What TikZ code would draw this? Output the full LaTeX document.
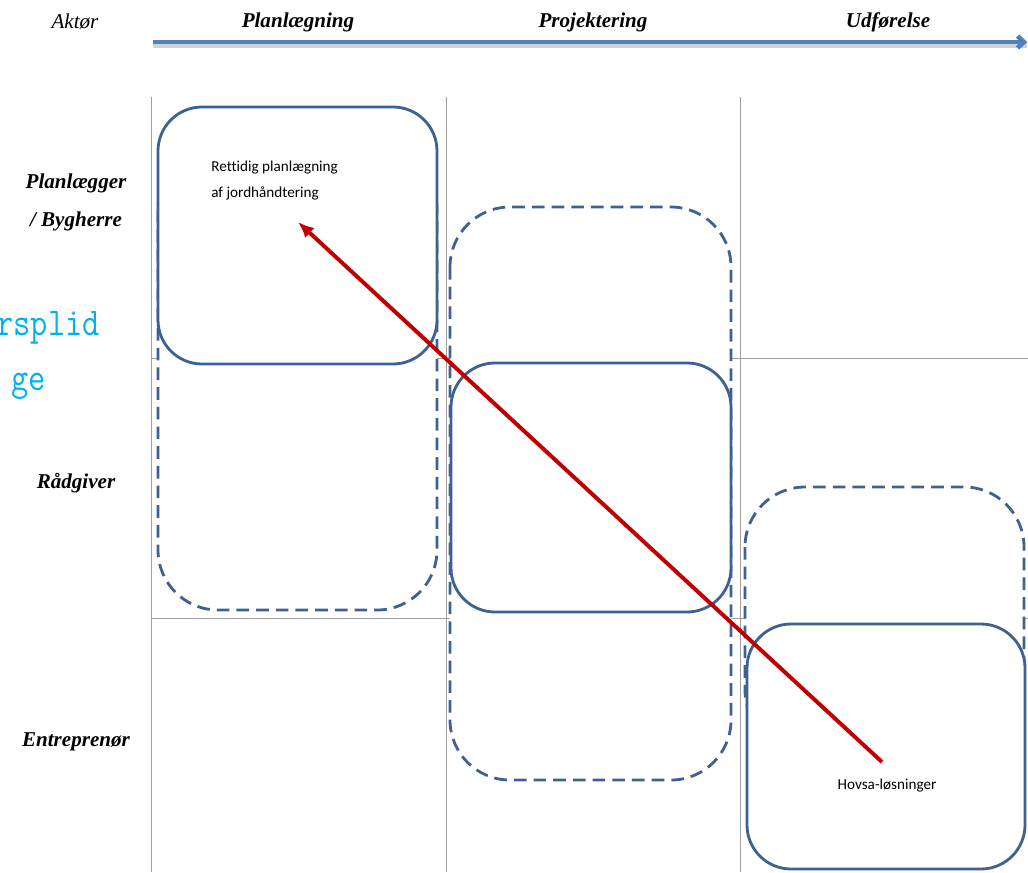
\documentclass[tikz,border=0pt]{standalone}
\usepackage{fontspec}
\setmainfont{Liberation Serif}
\newfontfamily\calibrifont[Ligatures=NoCommon]{Carlito}
\usetikzlibrary{arrows.meta}

\definecolor{boxblue}{RGB}{62,97,146}
\definecolor{axisblue}{RGB}{79,129,189}
\definecolor{arrowred}{RGB}{192,0,0}
\definecolor{splidcyan}{RGB}{0,176,240}

\tikzset{
	gridline/.style={line width=0.7pt, draw=gray!75},
	solidbox/.style={line width=2pt, draw=boxblue, fill=white, rounded corners=1.1cm},
	dashbox/.style={line width=2pt, draw=boxblue, fill=white, rounded corners=1.5cm, dash pattern=on 9pt off 5pt},
	phase/.style={font=\fontsize{15}{18}\selectfont\bfseries\itshape, inner sep=0pt},
	actor/.style={font=\fontsize{15}{18}\selectfont\bfseries\itshape, inner sep=0pt},
	aktorhead/.style={font=\fontsize{15}{18}\selectfont\itshape, inner sep=0pt},
	note/.style={font=\calibrifont\fontsize{10.8}{18.5}\selectfont, align=left, inner sep=0pt},
	splid/.style={font=\ttfamily\fontsize{28}{34}\selectfont, text=splidcyan, inner sep=0pt, anchor=base east},
	timeline/.style={line width=3.2pt, draw=axisblue, -{Straight Barb[length=1.6mm, width=3mm]}},
	redarrow/.style={line width=2.8pt, draw=arrowred, {Latex[length=4mm, width=3.4mm]}-}
}

\begin{document}
\begin{tikzpicture}
	
	\useasboundingbox (0,0) rectangle (25.7,-21.8);
	
	\draw[gridline] (3.775,-2.425) -- (3.775,-21.8);
	\draw[gridline] (11.15,-2.425) -- (11.15,-21.8);
	\draw[gridline] (18.5,-2.425) -- (18.5,-21.8);
	\draw[gridline] (3.775,-8.95) -- (25.7,-8.95);
	\draw[gridline] (3.775,-15.45) -- (25.7,-15.45);
	
	\draw[dashbox] (3.95,-3.75) rectangle (10.925,-15.25);
	\draw[dashbox] (11.25,-5.175) rectangle (18.275,-19.5);
	\draw[dashbox] (18.625,-12.175) rectangle (25.6,-18.75);
	
	\draw[solidbox] (3.95,-2.675) rectangle (10.925,-9.1);
	\draw[solidbox] (11.275,-9.075) rectangle (18.275,-15.3);
	\draw[solidbox] (18.675,-15.6) rectangle (25.625,-21.725);
	
	\coordinate (axisstart) at (3.825,-1.05);
	\coordinate (axisend) at (25.68,-1.05);
	\draw[line width=3pt, black!18] ([yshift=-2.5pt]axisstart) -- ([yshift=-2.5pt]axisend);
	\draw[timeline] (axisstart) -- (axisend);
	
	\node[aktorhead] (aktor) at (1.875,-0.55) {Aktør};
	\node[phase] (planlaegning) at (7.45,-0.55) {Planlægning};
	\node[phase] (projektering) at (14.825,-0.55) {Projektering};
	\node[phase] (udforelse) at (22.2,-0.55) {Udførelse};
	
	\node[actor] (planlaegger) at (1.9,-4.575) {Planlægger};
	\node[actor] (bygherre) at (1.9,-5.525) {/ Bygherre};
	\node[actor] (raadgiver) at (1.9,-12.075) {Rådgiver};
	\node[actor] (entreprenor) at (1.9,-18.55) {Entreprenør};
	
	\node[splid] (splidtop) at (2.5,-8.375) {\scalebox{0.85}[1]{rsplid}};
	\node[splid] (splidbottom) at (1.15,-9.75) {\scalebox{0.85}[1]{ge}};
	
	\node[note, anchor=west] (rettidig) at (5.275,-4.525) {Rettidig planlægning\\af jordhåndtering};
	\node[note] (hovsa) at (22.175,-19.65) {Hovsa-løsninger};
	
	\coordinate (redstart) at (22.05,-19.05);
	\coordinate (redend) at (7.45,-5.55);
	\draw[redarrow] (redend) -- (redstart);
	
\end{tikzpicture}
\end{document}
